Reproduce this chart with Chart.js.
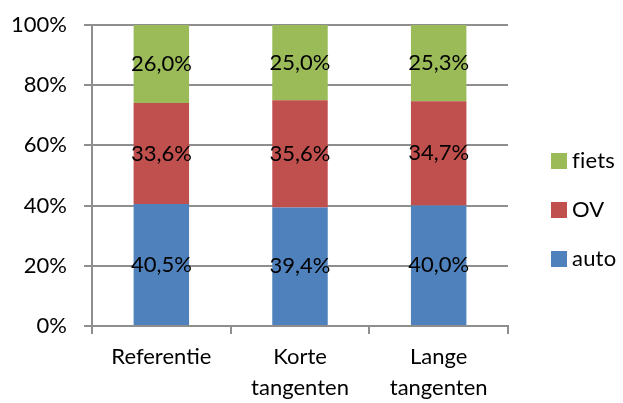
<!DOCTYPE html>
<html>
<head>
<meta charset="utf-8">
<script src="https://cdn.jsdelivr.net/npm/chart.js@4/dist/chart.umd.min.js"></script>
<style>
  html, body { margin: 0; padding: 0; background: #fff; }
  #wrap { width: 623px; height: 403px; position: relative; }
</style>
</head>
<body>
<div id="wrap"><canvas id="chart"></canvas></div>
<script>
'use strict';

// chart data
const categories = [['Referentie'], ['Korte', 'tangenten'], ['Lange', 'tangenten']];
const autoValues = [40.5, 39.4, 40.0];
const ovValues = [33.6, 35.6, 34.7];
const fietsValues = [26.0, 25.0, 25.3];
const yTicks = [0, 20, 40, 60, 80, 100];

const FONT = 'Lato, "DejaVu Sans", sans-serif';
const GRID = '#8e8e8e';

// value labels inside the bar segments
const barLabels = {
    'id': 'barLabels',
    afterDatasetsDraw(chart) {
        const ctx = chart.ctx;
        ctx.save();
        ctx.font = '22px ' + FONT;
        ctx.fillStyle = '#000';
        ctx.textAlign = 'center';
        ctx.textBaseline = 'middle';
        chart.data.datasets.forEach((ds, i) => {
            chart.getDatasetMeta(i).data.forEach((bar, j) => {
                const mid = (bar.y + bar.base) / 2;
                ctx.fillText(ds.data[j].toFixed(1).replace('.', ',') + '%', bar.x, mid);
            });
        });
        ctx.restore();
    }
};

// legend on the right, top item = last dataset
const sideLegend = {
    'id': 'sideLegend',
    afterDraw(chart, args, opts) {
        const ctx = chart.ctx;
        const x = chart.chartArea.right + opts.offsetX;
        ctx.save();
        ctx.font = '22px ' + FONT;
        ctx.letterSpacing = '0.2px'; // no fi ligature
        ctx.textBaseline = 'middle';
        ctx.textAlign = 'left';
        const sets = chart.data.datasets.slice().reverse();
        sets.forEach((ds, i) => {
            const y = opts.top + i * opts.gap;
            ctx.fillStyle = ds.backgroundColor;
            ctx.fillRect(x, y - 8, 16, 16);
            ctx.fillStyle = '#000';
            ctx.fillText(ds.label, x + 21, y);
        });
        ctx.restore();
    }
};

new Chart(document.getElementById('chart'), {
    'type': 'bar',
    'data': {
        'labels': categories,
        'datasets': [
            {'label': 'auto', 'data': autoValues, 'backgroundColor': '#4F81BD'},
            {'label': 'OV', 'data': ovValues, 'backgroundColor': '#C0504D'},
            {'label': 'fiets', 'data': fietsValues, 'backgroundColor': '#9BBB59'}
        ]
    },
    'plugins': [barLabels, sideLegend],
    'options': {
        'responsive': true,
        'maintainAspectRatio': false,
        'animation': false,
        'categoryPercentage': 0.8,
        'barPercentage': 0.5,
        'layout': {'padding': {'left': 8, 'top': 25, 'right': 115, 'bottom': 0}},
        'plugins': {
            'legend': {'display': false},
            'tooltip': {'enabled': false},
            'sideLegend': {'offsetX': 43, 'top': 161, 'gap': 49}
        },
        'scales': {
            'x': {
                'stacked': true,
                'afterFit': (axis) => { axis.height = 77; axis.paddingLeft = 0; axis.paddingRight = 0; },
                'grid': {'drawOnChartArea': false, 'color': GRID, 'lineWidth': 2, 'tickLength': 8, 'offset': true},
                'border': {'color': GRID, 'width': 2},
                'ticks': {'color': '#000', 'padding': 7, 'maxRotation': 0, 'font': {'family': FONT, 'size': 22, 'lineHeight': 1.42}}
            },
            'y': {
                'stacked': true,
                'min': 0,
                'max': 100,
                'afterBuildTicks': (axis) => { axis.ticks = yTicks.map(v => ({'value': v})); },
                'afterFit': (axis) => { axis.width = 84; axis.paddingTop = 0; axis.paddingBottom = 0; },
                'grid': {'color': GRID, 'lineWidth': 2, 'tickLength': 8},
                'border': {'color': GRID, 'width': 2},
                'ticks': {'color': '#000', 'padding': 17, 'font': {'family': FONT, 'size': 22}, 'callback': v => v + '%'}
            }
        }
    }
});
</script>
</body>
</html>
